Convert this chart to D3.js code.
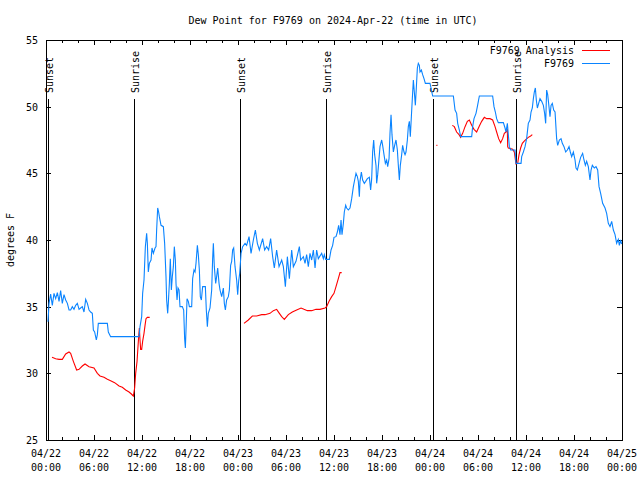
<!DOCTYPE html>
<html><head><meta charset="utf-8">
<script src="https://cdn.jsdelivr.net/npm/d3@7"></script>
<style>
body{margin:0;background:#fff}
svg{display:block}
text{font-family:"DejaVu Sans Mono","Liberation Mono",monospace;font-size:10px;fill:#000}
</style>
</head><body><svg width="640" height="480"></svg>
<script>
// ---- DATA ----
const titleText = "Dew Point for F9769 on 2024-Apr-22 (time in UTC)";
const yLabel = "degrees F";
const seriesNames = ["F9769 Analysis", "F9769"];
const startUTC = Date.UTC(2024, 3, 22, 0, 0);   // 04/22 00:00
const spanHours = 72;
const yTicks = [25, 30, 35, 40, 45, 50, 55];

// sunrise / sunset markers (hours after start)
const eventHours  = [0.19, 10.94, 24.29, 34.96, 48.34, 58.79];
const eventLabels = ["Sunset", "Sunrise", "Sunset", "Sunrise", "Sunset", "Sunrise"];

// F9769 observations (hours after start, deg F)
const obsHours = [0.25,0.38,0.58,0.79,1.0,1.21,1.42,1.63,1.83,2.04,2.25,2.46,2.67,2.88,3.08,3.29,3.5,3.71,3.92,4.13,4.33,4.54,4.75,4.96,5.17,5.38,5.58,5.79,5.92,6.08,6.29,6.42,6.54,7.67,7.79,8.08,9.5,11.63,11.75,11.96,12.08,12.25,12.42,12.58,12.67,12.79,12.92,13.13,13.25,13.42,13.63,13.75,13.83,13.96,14.08,14.17,14.38,14.67,14.83,15.0,15.08,15.21,15.29,15.42,15.54,15.67,15.79,15.92,16.04,16.17,16.25,16.38,16.5,16.63,16.75,17.04,17.21,17.33,17.42,17.5,17.63,17.79,17.92,18.21,18.33,18.5,18.63,18.75,18.92,19.04,19.17,19.29,19.42,19.58,19.92,20.04,20.17,20.29,20.5,20.71,20.83,20.92,21.04,21.21,21.33,21.46,21.63,21.75,21.96,22.17,22.29,22.42,22.58,22.79,22.92,23.08,23.21,23.33,23.46,23.63,23.83,23.96,24.08,24.21,24.38,24.58,24.88,25.08,25.38,25.63,25.92,26.17,26.42,26.67,27.08,27.33,27.58,27.83,28.08,28.33,28.54,28.83,29.13,29.46,29.67,29.92,30.17,30.42,30.71,30.92,31.25,31.67,31.83,32.17,32.38,32.58,32.79,33.0,33.21,33.42,33.63,33.83,34.04,34.46,34.67,34.79,34.96,35.42,35.63,35.83,36.0,36.25,36.42,36.58,36.75,36.88,37.0,37.17,37.29,37.46,37.58,37.79,38.0,38.21,38.42,38.58,38.75,38.92,39.04,39.17,39.25,39.42,39.58,39.79,39.96,40.17,40.42,40.58,40.71,40.83,40.96,41.08,41.25,41.33,41.46,41.58,41.75,41.96,42.08,42.25,42.42,42.58,42.71,42.88,43.0,43.13,43.25,43.42,43.58,43.75,43.92,44.04,44.17,44.29,44.46,44.58,44.75,44.88,45.0,45.17,45.29,45.42,45.54,45.67,45.79,45.92,46.04,46.17,46.29,46.42,46.54,46.67,46.75,46.92,47.08,47.25,47.42,48.0,48.13,48.33,50.92,51.13,51.33,51.46,51.67,51.83,53.21,53.33,53.5,53.75,53.92,54.17,55.83,56.0,56.17,56.33,56.54,57.17,57.38,57.5,57.67,57.79,57.92,58.08,58.63,58.75,59.38,59.46,59.67,59.88,60.08,60.29,60.5,60.63,60.79,60.92,61.04,61.17,61.29,61.42,61.58,61.75,61.96,62.17,62.33,62.46,62.58,62.71,62.83,63.0,63.13,63.29,63.46,63.63,63.83,63.96,64.17,64.38,64.54,64.75,64.96,65.17,65.38,65.54,65.71,65.92,66.13,66.25,66.42,66.63,66.83,67.08,67.25,67.42,67.58,67.79,68.0,68.13,68.29,68.54,68.75,68.96,69.13,69.33,69.58,69.88,70.08,70.29,70.5,70.71,70.92,71.13,71.33,71.54,71.67,71.83,71.95];
const obsDew = [33.87,35.25,35.95,35.1,36.0,35.6,36.05,35.4,36.2,35.25,35.9,35.5,35.25,34.75,34.75,35.0,34.8,35.1,35.25,34.8,34.9,35.0,34.6,35.55,35.25,34.75,34.6,34.5,33.25,33.1,32.5,32.9,33.75,33.75,33.1,32.75,32.75,32.75,33.5,34.25,36.0,37.0,39.5,40.5,39.75,37.6,38.25,38.5,39.4,39.0,39.4,39.5,40.75,42.4,42.1,41.75,41.1,41.0,39.75,37.25,35.5,34.5,35.25,36.75,38.6,36.25,37.25,38.0,39.5,38.5,36.75,35.5,36.4,36.25,35.0,35.0,34.75,32.6,31.9,33.25,35.6,35.4,35.0,35.0,37.1,37.75,37.6,38.25,39.6,38.9,37.75,35.75,35.5,36.5,36.5,34.75,33.5,34.5,34.9,36.25,38.6,39.75,38.0,36.75,37.25,37.9,36.75,36.25,35.75,36.4,35.25,34.75,35.5,35.75,36.25,38.1,38.4,39.25,39.4,38.0,37.0,35.9,36.9,37.5,39.0,39.5,39.75,39.6,40.25,39.0,40.0,40.75,39.75,39.25,40.1,39.25,39.5,39.25,40.1,38.75,37.9,39.25,38.0,38.5,38.0,36.5,38.75,37.1,39.25,38.0,38.4,39.5,38.5,38.75,38.25,38.9,38.0,39.0,38.5,39.25,37.9,39.25,38.6,39.0,38.6,38.9,38.55,38.55,39.25,39.6,40.2,40.25,40.6,41.1,40.4,41.5,40.4,41.25,42.1,42.6,42.4,42.25,42.4,43.1,44.0,44.5,45.0,44.75,44.4,43.25,44.4,45.1,44.5,44.25,44.4,44.6,44.7,43.75,44.6,46.6,47.5,46.4,45.6,44.25,44.9,45.75,47.0,47.5,47.1,46.4,45.75,46.0,45.5,46.1,48.0,49.4,47.9,46.6,47.1,47.5,46.75,45.6,44.5,45.6,46.4,47.1,46.6,46.4,46.6,47.5,48.5,48.9,47.75,49.25,50.6,52.0,51.1,50.1,51.4,52.9,53.25,53.1,52.6,52.75,52.4,52.1,51.75,51.75,51.4,50.8,50.8,49.75,49.5,48.75,48.25,47.75,47.75,48.5,49.1,49.5,50.0,50.8,50.8,50.0,49.6,49.1,48.8,48.8,48.4,48.1,48.75,47.9,47.0,46.75,46.75,45.75,45.75,46.25,46.6,47.0,47.6,48.75,49.0,49.6,49.9,50.6,51.1,51.4,50.5,49.9,50.25,50.6,50.4,50.1,49.5,48.75,51.25,50.9,50.25,49.25,50.1,50.25,49.75,49.6,47.6,47.1,47.5,47.6,47.25,47.0,46.6,46.75,47.0,46.6,46.25,46.6,46.0,45.4,45.25,45.75,46.2,46.5,46.0,45.6,45.9,45.5,44.5,45.25,45.6,45.4,45.5,45.25,44.0,43.5,42.75,42.4,42.0,41.25,41.0,41.4,40.75,40.4,39.75,40.05,39.6,40.0,39.7];

// F9769 Analysis (null = gap)
const anaHours = [0.75,1.21,1.63,2.04,2.46,2.88,3.08,3.42,3.83,4.13,4.54,4.88,5.38,6.0,6.42,6.75,7.25,7.67,8.08,8.58,9.13,9.54,9.96,10.38,10.67,10.92,11.08,11.21,11.38,11.58,11.67,11.75,11.83,11.96,12.08,12.25,12.38,12.5,12.67,12.96,13.5,
 24.75,25.29,25.79,26.33,26.96,27.38,28.0,28.42,28.83,29.17,29.46,29.79,30.29,30.79,31.33,31.88,32.25,32.67,33.21,33.75,34.25,34.88,35.08,35.38,35.71,36.0,36.25,36.54,36.75,36.96,37.5,
 48.8,48.92,49.5,
 50.79,51.04,51.33,51.63,51.83,52.08,52.38,52.67,52.92,53.21,53.5,53.83,54.17,54.46,54.79,55.08,55.5,55.83,56.13,56.33,56.58,56.83,57.08,57.29,57.5,57.67,57.71,57.79,58.33,58.54,58.75,58.96,59.13,59.33,59.54,59.75,60.0,60.29,60.58,60.79];
const anaDew = [31.2,31.1,31.05,31.05,31.45,31.6,31.5,30.9,30.25,30.3,30.55,30.7,30.5,30.4,30.0,29.8,29.7,29.55,29.45,29.3,29.05,28.95,28.75,28.6,28.45,28.3,28.9,30.0,30.9,32.75,33.4,32.5,31.8,31.8,32.4,33.0,33.6,34.1,34.2,34.2,null,
 33.75,34.0,34.3,34.3,34.4,34.4,34.5,34.7,34.8,34.5,34.25,34.05,34.4,34.6,34.75,34.9,34.8,34.7,34.7,34.8,34.8,34.9,35.0,35.4,35.75,36.0,36.5,37.1,37.55,37.55,null,
 47.1,47.1,null,
 48.6,48.5,48.1,47.9,47.7,48.0,48.5,48.9,49.0,48.6,48.3,48.1,48.55,48.9,49.2,49.1,49.1,49.0,48.5,48.1,47.6,47.3,47.6,48.0,48.1,48.25,47.0,46.9,46.8,46.6,45.7,45.75,46.4,46.9,47.25,47.4,47.55,47.7,47.8,47.9];

// ---- DRAW ----
const W = 640, H = 480;
const L = 46, R = 622, T = 40, B = 440;
const svg = d3.select("svg");
svg.append("rect").attr("width", W).attr("height", H).attr("fill", "#fff");

const toDate = h => new Date(startUTC + h * 3600e3);
const x = d3.scaleUtc().domain([toDate(0), toDate(spanHours)]).range([L, R]);
const y = d3.scaleLinear().domain([yTicks[0], yTicks[yTicks.length - 1]]).range([B, T]);

const majorX = d3.utcHour.every(6).range(toDate(0), toDate(spanHours + 0.01));
const minorX = d3.utcHour.every(2).range(toDate(0), toDate(spanHours + 0.01)).filter(d => d.getUTCHours() % 6 !== 0);

function styleAxis(g) {
  g.select(".domain").remove();
  g.selectAll("line").attr("stroke", "#000").attr("shape-rendering", "crispEdges");
}
// bottom
svg.append("g").attr("transform", `translate(0,${B})`)
  .call(d3.axisBottom(x).tickValues(majorX).tickSize(-5).tickFormat(""))
  .call(styleAxis).selectAll("text").remove();
svg.append("g").attr("transform", `translate(0,${B})`)
  .call(d3.axisBottom(x).tickValues(minorX).tickSize(-3).tickFormat(""))
  .call(styleAxis).selectAll("text").remove();
// top mirror
svg.append("g").attr("transform", `translate(0,${T})`)
  .call(d3.axisTop(x).tickValues(majorX).tickSize(-5).tickFormat(""))
  .call(styleAxis).selectAll("text").remove();
svg.append("g").attr("transform", `translate(0,${T})`)
  .call(d3.axisTop(x).tickValues(minorX).tickSize(-3).tickFormat(""))
  .call(styleAxis).selectAll("text").remove();
// left
const gl = svg.append("g").attr("transform", `translate(${L},0)`)
  .call(d3.axisLeft(y).tickValues(yTicks).tickSize(-5).tickPadding(8).tickFormat(d3.format("d")))
  .call(styleAxis);
gl.selectAll("text").attr("font-family", null).attr("font-size", null)
  .attr("x", -8).attr("dy", "0.35em").attr("text-anchor", "end");
// right mirror
svg.append("g").attr("transform", `translate(${R},0)`)
  .call(d3.axisRight(y).tickValues(yTicks).tickSize(-5).tickFormat(""))
  .call(styleAxis).selectAll("text").remove();

// x tick labels (two lines)
const fmtD = d3.utcFormat("%m/%d"), fmtT = d3.utcFormat("%H:%M");
const xl = svg.append("g").selectAll("text").data(majorX).join("text")
  .attr("text-anchor", "middle");
xl.append("tspan").attr("x", d => x(d)).attr("y", 457).text(fmtD);
xl.append("tspan").attr("x", d => x(d)).attr("y", 471).text(fmtT);

// sunrise / sunset markers
const ev = eventHours.map((h, i) => ({ t: toDate(h), label: eventLabels[i] }));
svg.append("g").selectAll("line").data(ev).join("line")
  .attr("x1", d => Math.round(x(d.t)) + 0.5).attr("x2", d => Math.round(x(d.t)) + 0.5)
  .attr("y1", 99).attr("y2", B).attr("stroke", "#000").attr("stroke-width", 1)
  .attr("shape-rendering", "crispEdges");
svg.append("g").selectAll("text").data(ev).join("text")
  .attr("transform", d => `translate(${Math.round(x(d.t)) + 5},93) rotate(-90)`)
  .attr("text-anchor", "start").text(d => d.label);

// border
svg.append("rect").attr("x", L + 0.5).attr("y", T + 0.5).attr("width", R - L).attr("height", B - T)
  .attr("fill", "none").attr("stroke", "#000").attr("shape-rendering", "crispEdges");

// series
const line = d3.line().defined(d => d.v != null).x(d => x(d.t)).y(d => y(d.v));
const anaData = anaHours.map((h, i) => ({ t: toDate(h), v: anaDew[i] }));
const obsData = obsHours.map((h, i) => ({ t: toDate(h), v: obsDew[i] }));
svg.append("path").datum(anaData).attr("d", line).attr("fill", "none")
  .attr("stroke", "#ff0000").attr("stroke-width", 1.1);
svg.append("path").datum(obsData).attr("d", line).attr("fill", "none")
  .attr("stroke", "#0a84ff").attr("stroke-width", 1.1);

// title, y label
svg.append("text").attr("x", 333).attr("y", 24).attr("text-anchor", "middle").text(titleText);
svg.append("text").attr("transform", "translate(14,240) rotate(-90)")
  .attr("text-anchor", "middle").text(yLabel);

// legend
const legColors = ["#ff0000", "#0a84ff"];
const lg = svg.append("g").selectAll("g").data(seriesNames).join("g")
  .attr("transform", (d, i) => `translate(0,${50 + i * 12.5})`);
lg.append("text").attr("x", 574).attr("y", 4).attr("text-anchor", "end").text(d => d);
lg.append("line").attr("x1", 582).attr("x2", 610).attr("y1", 0.5).attr("y2", 0.5)
  .attr("stroke", (d, i) => legColors[i]).attr("shape-rendering", "crispEdges");
</script>
</body></html>
